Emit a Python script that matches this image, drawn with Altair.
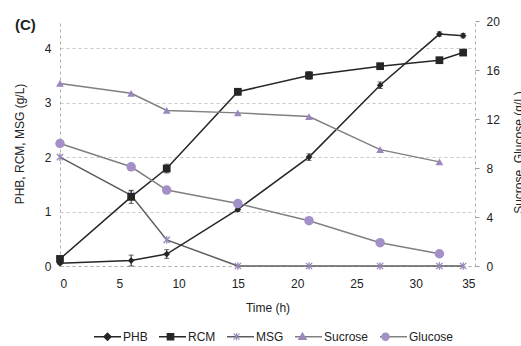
import altair as alt
import pandas as pd

# ---------------- data ----------------
time = [0, 6, 9, 15, 21, 27, 32, 34]
phb = [0.05, 0.10, 0.22, 1.04, 2.00, 3.32, 4.26, 4.23]
phb_err = [0.02, 0.10, 0.08, 0.04, 0.06, 0.06, 0.04, 0.04]
rcm = [0.13, 1.27, 1.79, 3.20, 3.50, 3.67, 3.78, 3.92]
rcm_err = [0.03, 0.12, 0.08, 0.06, 0.07, 0.04, 0.04, 0.05]
msg = [2.00, 1.30, 0.48, 0.0, 0.0, 0.0, 0.0, 0.0]
msg_err = [0.0, 0.08, 0.0, 0.0, 0.0, 0.0, 0.0, 0.0]

sugar_time = [0, 6, 9, 15, 21, 27, 32]
sucrose = [14.9, 14.1, 12.7, 12.5, 12.2, 9.5, 8.5]
glucose = [10.0, 8.1, 6.2, 5.1, 3.7, 1.9, 1.0]

series_names = ["PHB", "RCM", "MSG", "Sucrose", "Glucose"]
x_ticks = [0, 5, 10, 15, 20, 25, 30, 35]
left_ticks = [0, 1, 2, 3, 4]
right_ticks = [0, 4, 8, 12, 16, 20]

# ---------------- styles ----------------
FONT = "Liberation Sans"
TEXT = "#222222"
line_colors = ["#262626", "#262626", "#5c5c5c", "#808080", "#808080"]
marker_colors = ["#262626", "#262626", "#9a87bd", "#9a87bd", "#a290c6"]

ASTER = "M-1,-1L1,1M-1,1L1,-1M0,-1.2L0,1.2"
plot_shapes = {"PHB": ("diamond", True, 45), "RCM": ("square", True, 60),
               "MSG": (ASTER, False, 40), "Sucrose": ("triangle-up", True, 60),
               "Glucose": ("circle", True, 90)}

LINE_PATH = "M-1,0L1,0"
legend_marker_paths = [
    "M0,-0.27L0.27,0L0,0.27L-0.27,0Z",
    "M-0.24,-0.24H0.24V0.24H-0.24Z",
    "M-0.22,-0.22L0.22,0.22M-0.22,0.22L0.22,-0.22M0,-0.28L0,0.28",
    "M0,-0.28L0.28,0.2L-0.28,0.2Z",
    "M-0.27,0A0.27,0.27,0,1,0,0.27,0A0.27,0.27,0,1,0,-0.27,0Z",
]

# ---------------- tables ----------------
left_df = pd.DataFrame({
    "time": time * 3,
    "value": phb + rcm + msg,
    "err": phb_err + rcm_err + msg_err,
    "series": ["PHB"] * len(time) + ["RCM"] * len(time) + ["MSG"] * len(time),
})
left_df["lo"] = left_df["value"] - left_df["err"]
left_df["hi"] = left_df["value"] + left_df["err"]

right_df = pd.DataFrame({
    "time": sugar_time * 2,
    "value": sucrose + glucose,
    "series": ["Sucrose"] * len(sugar_time) + ["Glucose"] * len(sugar_time),
})

x_enc = alt.X("time:Q", scale=alt.Scale(domain=[0, 35], nice=False),
              axis=alt.Axis(values=x_ticks, title="Time (h)", grid=False, ticks=False,
                            domainColor="#b0b0b0", domainDash=[3, 3], labelPadding=12,
                            titlePadding=13))

y_left_scale = alt.Scale(domain=[0, 4.5], nice=False)
y_left_axis = alt.Axis(values=left_ticks, title="PHB, RCM, MSG (g/L)", orient="left",
                       grid=True, gridDash=[3, 3], gridColor="#c8c8c8", ticks=False,
                       domainColor="#b0b0b0", domainDash=[3, 3], labelPadding=9,
                       titlePadding=18)
y_left = alt.Y("value:Q", scale=y_left_scale, axis=y_left_axis)

y_right = alt.Y("value:Q", scale=alt.Scale(domain=[0, 20], nice=False),
                axis=alt.Axis(values=right_ticks, title="Sucrose, Glucose (g/L)",
                              orient="right", grid=False, ticks=True, tickSize=4,
                              tickColor="#9a9a9a", domainColor="#b0b0b0", domainDash=[3, 3],
                              labelPadding=7, titlePadding=26, titleAngle=270, titleY=131))


def series_layers(df, name, y, with_err):
    i = series_names.index(name)
    shape, filled, size = plot_shapes[name]
    base = alt.Chart(df).transform_filter(alt.datum.series == name)
    layers = [base.mark_line(color=line_colors[i], strokeWidth=1.5).encode(x=x_enc, y=y)]
    if with_err:
        layers.append(
            base.transform_filter(alt.datum.err > 0)
            .mark_errorbar(ticks=True, color=line_colors[i], thickness=1)
            .encode(x=x_enc, y=alt.Y("lo:Q", scale=y_left_scale, axis=y_left_axis), y2="hi:Q")
        )
    if filled:
        pts = base.mark_point(shape=shape, filled=True, color=marker_colors[i],
                              size=size, opacity=1)
    else:
        pts = base.mark_point(shape=shape, filled=False, color=marker_colors[i],
                              size=size, opacity=1, strokeWidth=1.3)
    layers.append(pts.encode(x=x_enc, y=y))
    return layers


left_layers = []
for nm in ["MSG", "RCM", "PHB"]:
    left_layers += series_layers(left_df, nm, y_left, True)
right_layers = []
for nm in ["Sucrose", "Glucose"]:
    right_layers += series_layers(right_df, nm, y_right, False)

left = alt.layer(*left_layers)
right = alt.layer(*right_layers)

# ---------------- legend (two identical overlaid legends: lines, then markers) ----------------
SYM = 729
leg_common = dict(orient="none", legendX=33, legendY=301, direction="horizontal", columns=5,
                  title=None, symbolSize=SYM, labelFont=FONT, labelFontSize=12,
                  labelOffset=1, columnPadding=8, padding=0, rowPadding=0,
                  labelExpr="trim(datum.label)")

leg_df = pd.DataFrame({"series": series_names})
leg_line = alt.Chart(leg_df).transform_filter("false").mark_point(
    filled=False, strokeWidth=1.5, size=SYM, opacity=1
).encode(
    stroke=alt.Stroke("series:N", scale=alt.Scale(domain=series_names, range=line_colors),
                      legend=alt.Legend(symbolStrokeWidth=1.5, labelColor=TEXT, **leg_common)),
    shape=alt.Shape("series:N", scale=alt.Scale(domain=series_names, range=[LINE_PATH] * 5),
                    legend=alt.Legend(symbolStrokeWidth=1.5, labelColor=TEXT, **leg_common)),
)

mark_names = [s + " " for s in series_names]
leg_mark_df = pd.DataFrame({"series": mark_names})
mk_legend = alt.Legend(symbolStrokeWidth=1.2, labelColor=TEXT, labelOpacity=0, **leg_common)
leg_mark = alt.Chart(leg_mark_df).transform_filter("false").mark_point(
    filled=True, strokeWidth=1.2, size=SYM, opacity=1
).encode(
    fill=alt.Fill("series:N", scale=alt.Scale(domain=mark_names, range=marker_colors), legend=mk_legend),
    stroke=alt.Stroke("series:N", scale=alt.Scale(domain=mark_names, range=marker_colors), legend=mk_legend),
    shape=alt.Shape("series:N", scale=alt.Scale(domain=mark_names, range=legend_marker_paths), legend=mk_legend),
)

chart = alt.layer(left, right, leg_line, leg_mark).resolve_scale(
    y="independent", stroke="independent", shape="independent", fill="independent"
).properties(
    width=415, height=245,
    autosize=alt.AutoSizeParams(type="none"),
    padding={"left": 60, "top": 21, "right": 46, "bottom": 80},
    title=alt.TitleParams("(C)", anchor="start", frame="group", orient="top", offset=0,
                          dx=-45, dy=30, baseline="alphabetic", font=FONT, fontSize=15,
                          fontWeight="bold", color=TEXT),
).configure_view(stroke=None).configure_axis(
    labelFont=FONT, titleFont=FONT, labelFontSize=12, titleFontSize=12,
    labelColor=TEXT, titleColor=TEXT, titleFontWeight="normal"
)

chart.save("out.html", embed_options={"renderer": "svg", "actions": False})
